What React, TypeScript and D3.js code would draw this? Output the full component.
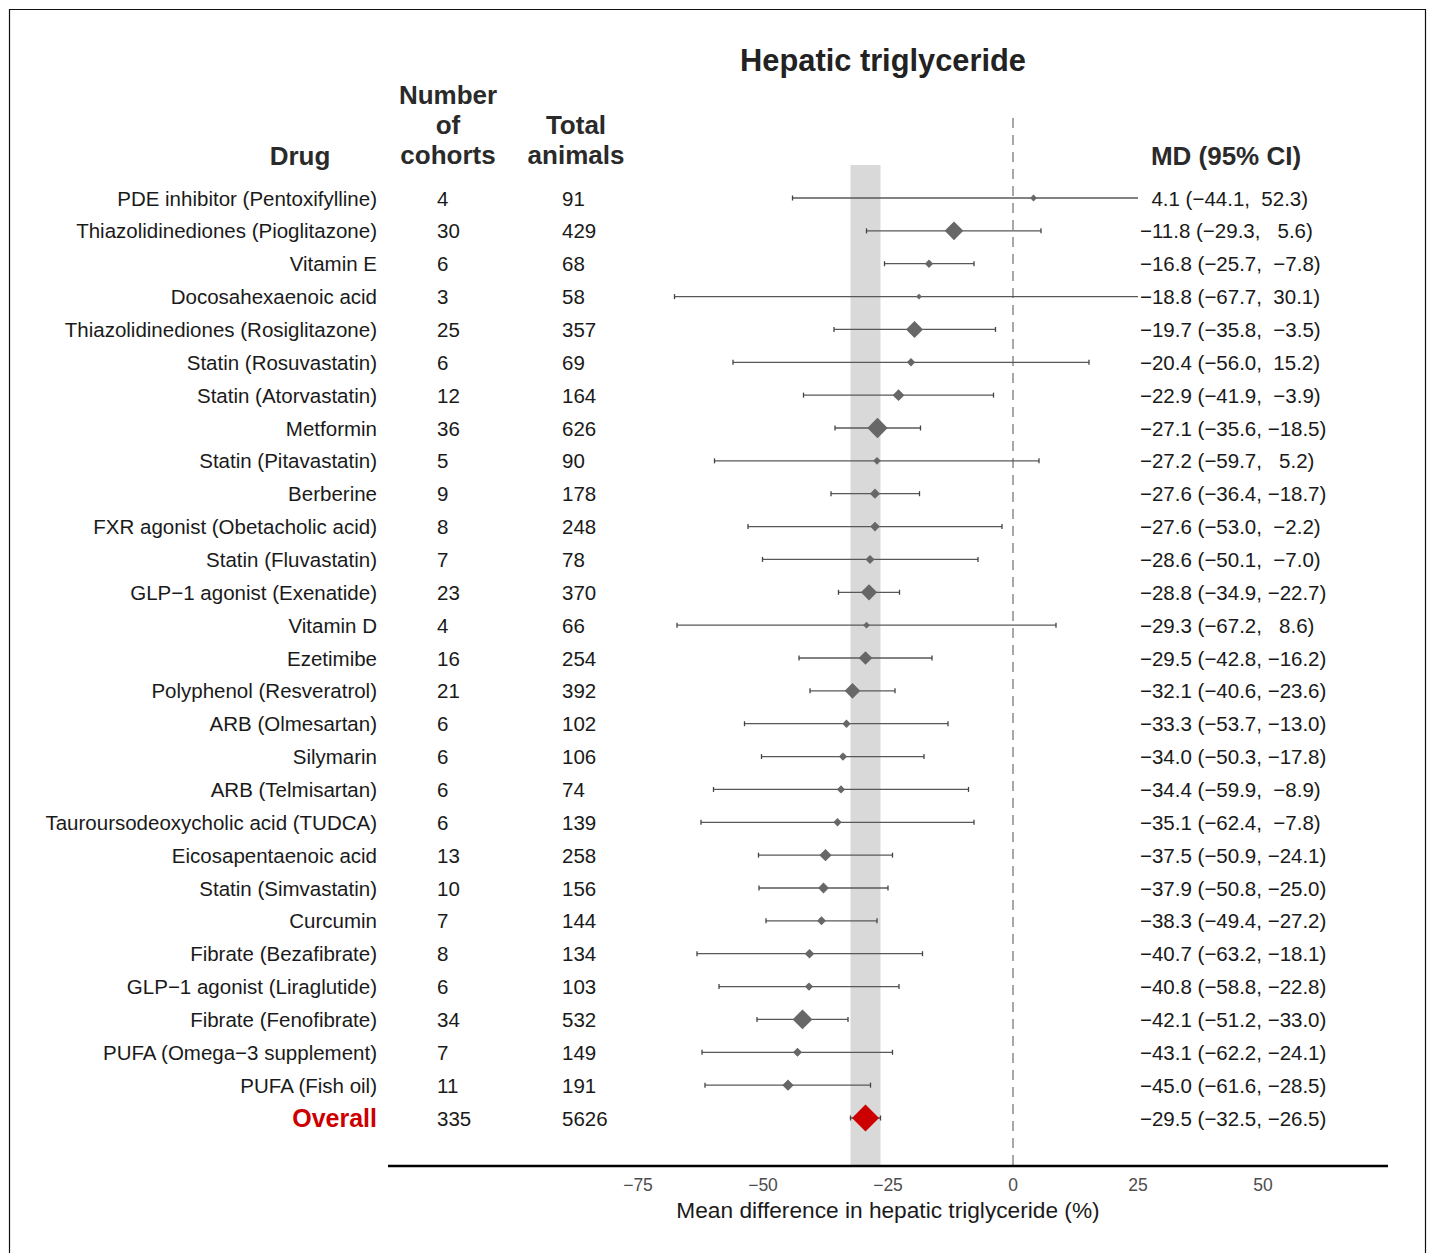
import React from "react";
import * as d3 from "d3";

// forest plot data
const drugs = [
  "PDE inhibitor (Pentoxifylline)",
  "Thiazolidinediones (Pioglitazone)",
  "Vitamin E",
  "Docosahexaenoic acid",
  "Thiazolidinediones (Rosiglitazone)",
  "Statin (Rosuvastatin)",
  "Statin (Atorvastatin)",
  "Metformin",
  "Statin (Pitavastatin)",
  "Berberine",
  "FXR agonist (Obetacholic acid)",
  "Statin (Fluvastatin)",
  "GLP\u22121 agonist (Exenatide)",
  "Vitamin D",
  "Ezetimibe",
  "Polyphenol (Resveratrol)",
  "ARB (Olmesartan)",
  "Silymarin",
  "ARB (Telmisartan)",
  "Tauroursodeoxycholic acid (TUDCA)",
  "Eicosapentaenoic acid",
  "Statin (Simvastatin)",
  "Curcumin",
  "Fibrate (Bezafibrate)",
  "GLP\u22121 agonist (Liraglutide)",
  "Fibrate (Fenofibrate)",
  "PUFA (Omega\u22123 supplement)",
  "PUFA (Fish oil)",
];
const cohorts = [4, 30, 6, 3, 25, 6, 12, 36, 5, 9, 8, 7, 23, 4, 16, 21, 6, 6, 6, 6, 13, 10, 7, 8, 6, 34, 7, 11];
const animals = [91, 429, 68, 58, 357, 69, 164, 626, 90, 178, 248, 78, 370, 66, 254, 392, 102, 106, 74, 139, 258, 156, 144, 134, 103, 532, 149, 191];
const md = [4.1, -11.8, -16.8, -18.8, -19.7, -20.4, -22.9, -27.1, -27.2, -27.6, -27.6, -28.6, -28.8, -29.3, -29.5, -32.1, -33.3, -34.0, -34.4, -35.1, -37.5, -37.9, -38.3, -40.7, -40.8, -42.1, -43.1, -45.0];
const lower = [-44.1, -29.3, -25.7, -67.7, -35.8, -56.0, -41.9, -35.6, -59.7, -36.4, -53.0, -50.1, -34.9, -67.2, -42.8, -40.6, -53.7, -50.3, -59.9, -62.4, -50.9, -50.8, -49.4, -63.2, -58.8, -51.2, -62.2, -61.6];
const upper = [52.3, 5.6, -7.8, 30.1, -3.5, 15.2, -3.9, -18.5, 5.2, -18.7, -2.2, -7.0, -22.7, 8.6, -16.2, -23.6, -13.0, -17.8, -8.9, -7.8, -24.1, -25.0, -27.2, -18.1, -22.8, -33.0, -24.1, -28.5];

const overall = { label: "Overall", cohorts: 335, animals: 5626, md: -29.5, lower: -32.5, upper: -26.5 };
const xTicks = [-75, -50, -25, 0, 25, 50];

const FONT = "'Liberation Sans', Arial, Helvetica, sans-serif";
const BODY = 20.5;

const fmt = (v: number) => {
  const s = v.toFixed(1).replace("-", "\u2212");
  return s.padStart(5, " ");
};

export default function App() {
  const width = 1433;
  const height = 1253;

  const x = d3.scaleLinear().domain([-125, 75]).range([388, 1388]);
  const y = d3
    .scalePoint<number>()
    .domain(d3.range(drugs.length + 1))
    .range([198, 1118]);
  const size = d3.scaleSqrt().domain([0, 36]).range([0, 10.2]);
  const clipHi = 25;

  const axisY = 1166;
  const colDrug = 377;
  const colCoh = 437;
  const colAni = 562;
  const colMd = 1140;

  const rows = drugs.map((d, i) => ({
    drug: d,
    cohorts: cohorts[i],
    animals: animals[i],
    md: md[i],
    lower: lower[i],
    upper: upper[i],
  }));

  const diamond = (cx: number, cy: number, r: number) =>
    `M${cx},${cy - r}L${cx + r},${cy}L${cx},${cy + r}L${cx - r},${cy}Z`;

  const oy = y(drugs.length)!;

  return (
    <svg
      width={width}
      height={height}
      style={{ position: "absolute", left: 0, top: 0, background: "#fff" }}
      fontFamily={FONT}
    >
      {/* frame */}
      <path d={`M9.5,${height + 5}V9.5H1425.5V${height + 5}`} fill="none" stroke="#111" strokeWidth={1.2} />

      {/* title */}
      <text x={883} y={60} textAnchor="middle" dominantBaseline="central" fontSize={30.8} fontWeight="bold" fill="#222">
        Hepatic triglyceride
      </text>

      {/* column headers */}
      <g fontSize={26} fontWeight="bold" fill="#2a2a2a" textAnchor="middle" dominantBaseline="central">
        <text x={300} y={156}>Drug</text>
        <text x={448} y={95}>Number</text>
        <text x={448} y={125}>of</text>
        <text x={448} y={155}>cohorts</text>
        <text x={576} y={125}>Total</text>
        <text x={576} y={155}>animals</text>
        <text x={1226} y={156}>MD (95% CI)</text>
      </g>

      {/* overall CI band */}
      <rect
        x={x(overall.lower)}
        y={165}
        width={x(overall.upper) - x(overall.lower)}
        height={axisY - 165}
        fill="#d9d9d9"
      />

      {/* null line */}
      <line x1={x(0)} x2={x(0)} y1={118} y2={axisY} stroke="#a8a8a8" strokeWidth={2} strokeDasharray="10,7" />

      {/* study rows */}
      {rows.map((r, i) => {
        const cy = y(i)!;
        const hiClipped = r.upper > clipHi;
        const x1 = x(r.lower);
        const x2 = x(Math.min(r.upper, clipHi));
        return (
          <g key={r.drug}>
            <text x={colDrug} y={cy} textAnchor="end" dominantBaseline="central" fontSize={BODY} fill="#1a1a1a">
              {r.drug}
            </text>
            <text x={colCoh} y={cy} dominantBaseline="central" fontSize={BODY} fill="#1a1a1a">
              {r.cohorts}
            </text>
            <text x={colAni} y={cy} dominantBaseline="central" fontSize={BODY} fill="#1a1a1a">
              {r.animals}
            </text>
            <line x1={x1} x2={x2} y1={cy} y2={cy} stroke="#585858" strokeWidth={1.3} />
            <line x1={x1} x2={x1} y1={cy - 2.5} y2={cy + 2.5} stroke="#444" strokeWidth={1.3} />
            {!hiClipped && <line x1={x2} x2={x2} y1={cy - 2.5} y2={cy + 2.5} stroke="#444" strokeWidth={1.3} />}
            <path d={diamond(x(r.md), cy, size(r.cohorts))} fill="#676767" />
            <text
              x={colMd}
              y={cy}
              dominantBaseline="central"
              fontSize={BODY}
              fill="#1a1a1a"
              style={{ whiteSpace: "pre" }}
            >
              {`${fmt(r.md)} (${fmt(r.lower)}, ${fmt(r.upper)})`}
            </text>
          </g>
        );
      })}

      {/* overall row */}
      <g>
        <text x={colDrug} y={oy} textAnchor="end" dominantBaseline="central" fontSize={25} fontWeight="bold" fill="#cc0000">
          {overall.label}
        </text>
        <text x={colCoh} y={oy} dominantBaseline="central" fontSize={BODY} fill="#1a1a1a">
          {overall.cohorts}
        </text>
        <text x={colAni} y={oy} dominantBaseline="central" fontSize={BODY} fill="#1a1a1a">
          {overall.animals}
        </text>
        <line x1={x(overall.lower)} x2={x(overall.upper)} y1={oy} y2={oy} stroke="#444" strokeWidth={1.3} />
        <line x1={x(overall.lower)} x2={x(overall.lower)} y1={oy - 2.5} y2={oy + 2.5} stroke="#444" strokeWidth={1.3} />
        <line x1={x(overall.upper)} x2={x(overall.upper)} y1={oy - 2.5} y2={oy + 2.5} stroke="#444" strokeWidth={1.3} />
        <path d={diamond(x(overall.md), oy, 13.5)} fill="#cc0000" />
        <text x={colMd} y={oy} dominantBaseline="central" fontSize={BODY} fill="#1a1a1a" style={{ whiteSpace: "pre" }}>
          {`${fmt(overall.md)} (${fmt(overall.lower)}, ${fmt(overall.upper)})`}
        </text>
      </g>

      {/* x axis */}
      <line x1={x.range()[0]} x2={x.range()[1]} y1={axisY} y2={axisY} stroke="#000" strokeWidth={2.5} />
      {xTicks.map((t) => (
        <text
          key={t}
          x={x(t)}
          y={1185}
          textAnchor="middle"
          dominantBaseline="central"
          fontSize={17.5}
          fill="#4d4d4d"
        >
          {t < 0 ? `\u2212${Math.abs(t)}` : t}
        </text>
      ))}
      <text x={888} y={1210} textAnchor="middle" dominantBaseline="central" fontSize={22.7} fill="#1a1a1a">
        Mean difference in hepatic triglyceride (%)
      </text>
    </svg>
  );
}
